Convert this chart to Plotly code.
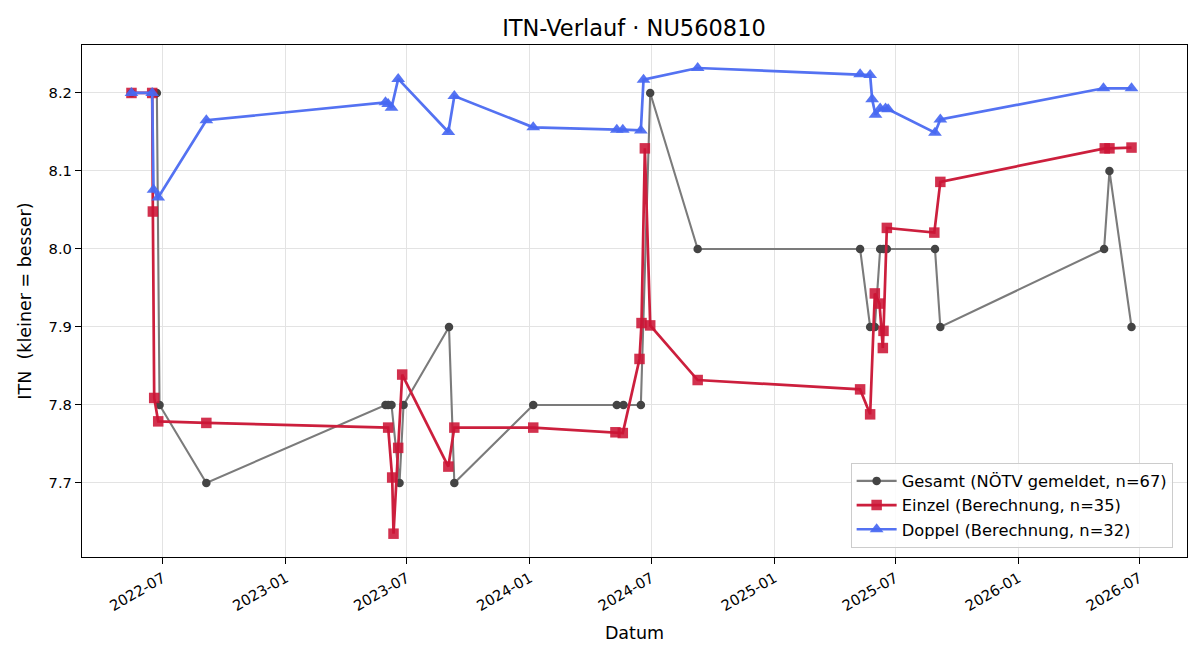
import plotly.graph_objects as go

# ---------------- data ----------------
gesamt_dates = [
    "2022-05-15", "2022-06-15", "2022-06-22", "2022-06-26", "2022-09-04",
    "2023-05-30", "2023-06-03", "2023-06-08", "2023-06-20", "2023-06-26",
    "2023-09-02", "2023-09-10", "2024-01-06", "2024-05-10", "2024-05-20",
    "2024-06-15", "2024-06-29", "2024-09-08", "2025-05-09", "2025-05-24",
    "2025-05-31", "2025-06-08", "2025-06-13", "2025-06-18", "2025-08-29",
    "2025-09-06", "2026-05-09", "2026-05-17", "2026-06-19",
]
gesamt_vals = [
    8.2, 8.2, 8.2, 7.8, 7.7,
    7.8, 7.8, 7.8, 7.7, 7.8,
    7.9, 7.7, 7.8, 7.8, 7.8,
    7.8, 8.2, 8.0, 8.0, 7.9,
    7.9, 8.0, 8.0, 8.0, 8.0,
    7.9, 8.0, 8.1, 7.9,
]

einzel_dates = [
    "2022-05-15", "2022-06-15", "2022-06-16", "2022-06-18", "2022-06-24",
    "2022-09-04", "2023-06-03", "2023-06-09", "2023-06-11", "2023-06-18",
    "2023-06-24", "2023-09-01", "2023-09-10", "2024-01-06", "2024-05-08",
    "2024-05-19", "2024-06-13", "2024-06-16", "2024-06-21", "2024-06-29",
    "2024-09-08", "2025-05-09", "2025-05-24", "2025-05-31", "2025-06-07",
    "2025-06-12", "2025-06-13", "2025-06-18", "2025-08-28", "2025-09-06",
    "2026-05-10", "2026-05-17", "2026-06-19",
]
einzel_vals = [
    8.200, 8.200, 8.048, 7.809, 7.779,
    7.777, 7.771, 7.707, 7.635, 7.745,
    7.839, 7.721, 7.771, 7.771, 7.765,
    7.764, 7.859, 7.905, 8.129, 7.902,
    7.832, 7.820, 7.788, 7.943, 7.930,
    7.873, 7.895, 8.027, 8.021, 8.086,
    8.129, 8.129, 8.130,
]

doppel_dates = [
    "2022-05-15", "2022-06-15", "2022-06-17", "2022-06-24", "2022-09-04",
    "2023-05-30", "2023-06-03", "2023-06-08", "2023-06-18", "2023-09-01",
    "2023-09-10", "2024-01-06", "2024-05-10", "2024-05-19", "2024-06-15",
    "2024-06-19", "2024-09-08", "2025-05-09", "2025-05-24", "2025-05-27",
    "2025-06-01", "2025-06-08", "2025-06-16", "2025-06-20", "2025-08-29",
    "2025-09-06", "2026-05-08", "2026-06-19",
]
doppel_vals = [
    8.200, 8.200, 8.076, 8.066, 8.165,
    8.188, 8.186, 8.181, 8.218, 8.150,
    8.196, 8.156, 8.153, 8.153, 8.152,
    8.217, 8.232, 8.224, 8.223, 8.192,
    8.172, 8.180, 8.180, 8.179, 8.149,
    8.166, 8.206, 8.206,
]

x_tick_vals = ["2022-07-01", "2023-01-01", "2023-07-01", "2024-01-01", "2024-07-01",
               "2025-01-01", "2025-07-01", "2026-01-01", "2026-07-01"]
x_tick_text = ["2022-07", "2023-01", "2023-07", "2024-01", "2024-07",
               "2025-01", "2025-07", "2026-01", "2026-07"]
y_tick_vals = [7.7, 7.8, 7.9, 8.0, 8.1, 8.2]
y_tick_text = ["7.7", "7.8", "7.9", "8.0", "8.1", "8.2"]

title_text = "ITN-Verlauf · NU560810"
x_title = "Datum"
y_title = "ITN \u00a0(kleiner = besser)"
name_gesamt = "Gesamt (NÖTV gemeldet, n=67)"
name_einzel = "Einzel (Berechnung, n=35)"
name_doppel = "Doppel (Berechnung, n=32)"

FONT = "DejaVu Sans"

fig = go.Figure()
fig.add_trace(go.Scatter(
    x=gesamt_dates, y=gesamt_vals, mode="lines+markers", name=name_gesamt,
    line=dict(color="#7b7b7b", width=2.1),
    marker=dict(symbol="circle", size=8.5, color="#444444"),
))
fig.add_trace(go.Scatter(
    x=einzel_dates, y=einzel_vals, mode="lines+markers", name=name_einzel,
    line=dict(color="#cc1f3d", width=2.7),
    marker=dict(symbol="square", size=10.5, color="rgba(204,20,54,0.88)",
                line=dict(width=0)),
))
fig.add_trace(go.Scatter(
    x=doppel_dates, y=doppel_vals, mode="lines+markers", name=name_doppel,
    line=dict(color="#5472f2", width=2.7),
    marker=dict(symbol="triangle-up", size=12, color="rgba(72,104,242,0.92)",
                line=dict(width=0)),
))

fig.update_layout(
    width=1200, height=660,
    margin=dict(l=82, r=13, t=45, b=103),
    paper_bgcolor="white", plot_bgcolor="white",
    font=dict(family=FONT, color="black", size=15),
    title=dict(text=title_text, x=0.5283, xanchor="center", y=0.9576, yanchor="middle",
               font=dict(family=FONT, size=22.5, color="black")),
    showlegend=True,
    legend=dict(
        x=0.987, xanchor="right", y=0.018, yanchor="bottom",
        bgcolor="rgba(255,255,255,0.85)", bordercolor="#cccccc", borderwidth=1,
        font=dict(family=FONT, size=16.3, color="black"),
        tracegroupgap=0, itemwidth=40,
    ),
)

fig.update_xaxes(
    type="date", range=["2022-03-02", "2026-09-10"],
    tickmode="array", tickvals=x_tick_vals, ticktext=x_tick_text,
    tickangle=-30, ticks="outside", ticklen=6, tickwidth=1.2, tickcolor="black",
    tickfont=dict(family=FONT, size=14.7, color="black"),
    showgrid=True, gridcolor="#e3e3e3", gridwidth=1,
    showline=True, linecolor="black", linewidth=1.2, mirror=True,
    zeroline=False,
    title=dict(text=x_title, font=dict(family=FONT, size=17.5, color="black"), standoff=13),
)
fig.update_yaxes(
    range=[7.6051, 8.2615],
    tickmode="array", tickvals=y_tick_vals, ticktext=y_tick_text,
    ticks="outside", ticklen=6, tickwidth=1.2, tickcolor="black",
    tickfont=dict(family=FONT, size=14.7, color="black"),
    showgrid=True, gridcolor="#e3e3e3", gridwidth=1,
    showline=True, linecolor="black", linewidth=1.2, mirror=True,
    zeroline=False,
    title=dict(text=y_title, font=dict(family=FONT, size=17.5, color="black"), standoff=12),
)

fig.write_html("out.html")
